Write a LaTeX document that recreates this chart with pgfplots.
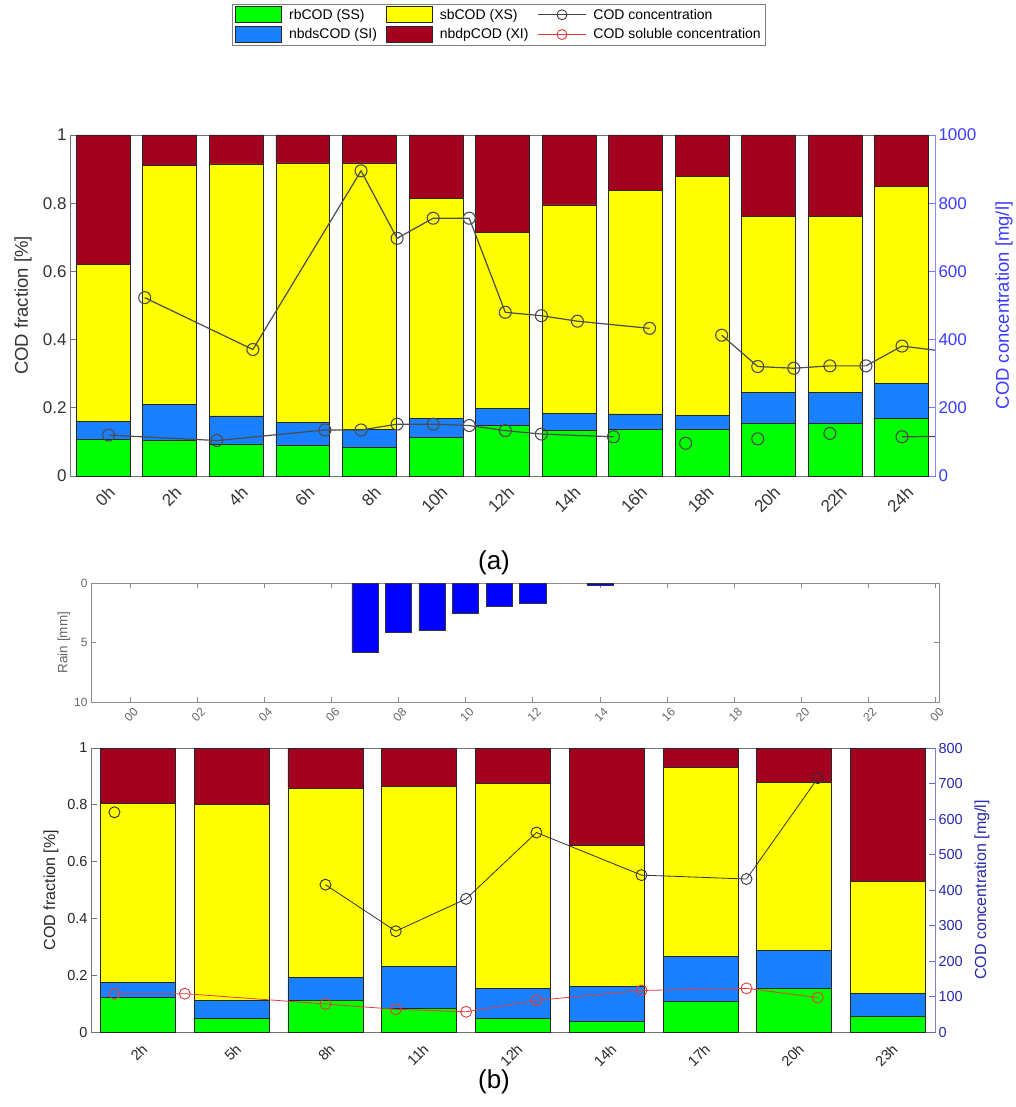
\documentclass[border=0pt]{standalone}
\usepackage{fontspec}
\setmainfont{Liberation Sans}
\usepackage{pgfplots}
\pgfplotsset{compat=1.18}
\usepackage{pgfplotstable}

\definecolor{cSS}{RGB}{0,255,0}
\definecolor{cXS}{RGB}{255,255,0}
\definecolor{cSI}{RGB}{26,128,255}
\definecolor{cXI}{RGB}{162,0,30}
\definecolor{blueA}{RGB}{60,60,255}
\definecolor{blueB}{RGB}{40,40,170}
\definecolor{redline}{RGB}{225,60,60}

\pgfplotstableread{
x SS SI XS XI
0 0.108 0.051 0.462 0.379
1 0.104 0.106 0.700 0.090
2 0.094 0.082 0.739 0.085
3 0.089 0.067 0.762 0.082
4 0.083 0.054 0.781 0.082
5 0.113 0.055 0.646 0.186
6 0.148 0.050 0.516 0.286
7 0.133 0.051 0.611 0.205
8 0.136 0.046 0.656 0.162
9 0.136 0.041 0.702 0.121
10 0.155 0.091 0.516 0.238
11 0.155 0.091 0.516 0.238
12 0.170 0.102 0.577 0.151
}\tabA

\pgfplotstableread{
x SS SI XS XI
0 0.121 0.054 0.631 0.194
1 0.048 0.062 0.691 0.199
2 0.110 0.083 0.666 0.141
3 0.083 0.147 0.634 0.136
4 0.049 0.105 0.720 0.126
5 0.038 0.122 0.497 0.343
6 0.107 0.160 0.665 0.068
7 0.154 0.134 0.591 0.121
8 0.055 0.081 0.394 0.470
}\tabB

\pgfplotsset{
  common/.style={
    scale only axis,
    tick align=inside,
    major tick length=6pt,
    /pgf/number format/assume math mode=true,
    /pgf/number format/1000 sep={},
    scaled y ticks=false,
    axis line style={black!55, line width=0.7pt},
    every tick/.style={black!55, line width=0.7pt},
  },
  barstyle/.style={draw=black!85, line width=0.8pt},
  barlegend/.style={legend image code/.code={\draw[##1] (0pt,-8pt) rectangle (46pt,8pt);}},
  linelegend/.style={legend image code/.code={\draw[mark repeat=2,mark phase=2,##1] plot coordinates {(0pt,0pt) (24pt,0pt) (48pt,0pt)};}},
}

\begin{document}
\begin{tikzpicture}
\useasboundingbox (0,0) rectangle (1015pt,-1107pt);

% ---------------- (a) bars ----------------
\begin{axis}[common,
  at={(70pt,-476pt)}, anchor=south west,
  width=865pt, height=341pt,
  xmin=-0.5, xmax=12.5, ymin=0, ymax=1,
  ybar stacked, bar width=0.81,
  xtick={0,...,12},
  xticklabels={0h,2h,4h,6h,8h,10h,12h,14h,16h,18h,20h,22h,24h},
  ytick={0,0.2,0.4,0.6,0.8,1},
  ytick pos=left, xtick pos=both,
  yticklabel style={/pgf/number format/fixed},
  tick label style={font=\fontsize{17}{20}\selectfont, text=black!80},
  xticklabel style={xshift=4pt, yshift=-4pt, rotate=45, anchor=north east},
  ylabel={COD fraction [\%]},
  every axis y label/.style={at={(axis description cs:-0.0543,0.5)}, rotate=90, anchor=center, font=\fontsize{18.5}{22}\selectfont, text=black!80},
]
\addplot[barstyle, fill=cSS] table[x=x,y=SS]{\tabA};
\addplot[barstyle, fill=cSI] table[x=x,y=SI]{\tabA};
\addplot[barstyle, fill=cXS] table[x=x,y=XS]{\tabA};
\addplot[barstyle, fill=cXI] table[x=x,y=XI]{\tabA};
\end{axis}

% ---------------- (a) concentration ----------------
\begin{axis}[common,
  at={(70pt,-476pt)}, anchor=south west,
  width=865pt, height=341pt,
  xmin=-0.5, xmax=12.5, ymin=0, ymax=1000,
  axis x line=none, axis y line*=right,
  ytick={0,200,400,600,800,1000},
  y axis line style={blueA!60, line width=0.7pt},
  ytick style={blueA!70},
  yticklabel style={font=\fontsize{17}{20}\selectfont, text=blueA},
  ylabel={COD concentration [mg/l]},
  every axis y label/.style={at={(axis description cs:1.0798,0.5)}, rotate=90, anchor=center, font=\fontsize{18.5}{22}\selectfont, text=blueA},
  unbounded coords=jump,
  legend columns=3,
  legend cell align=left,
  legend style={at={(0.496,1.384)}, anchor=north, draw=black!50, line width=0.6pt,
    font=\fontsize{14}{16}\selectfont, inner xsep=3pt, inner ysep=2pt, row sep=3pt,
    /tikz/every odd column/.append style={column sep=5pt},
    /tikz/every even column/.append style={column sep=7pt}},
]
\addlegendimage{barlegend, fill=cSS, draw=black!85, line width=0.8pt}
\addlegendentry{rbCOD (SS)}
\addlegendimage{barlegend, fill=cXS, draw=black!85, line width=0.8pt}
\addlegendentry{sbCOD (XS)}
\addlegendimage{linelegend, black!75, line width=0.9pt, mark=o, mark size=5pt, mark options={solid}}
\addlegendentry{COD concentration}
\addlegendimage{barlegend, fill=cSI, draw=black!85, line width=0.8pt}
\addlegendentry{nbdsCOD (SI)}
\addlegendimage{barlegend, fill=cXI, draw=black!85, line width=0.8pt}
\addlegendentry{nbdpCOD (XI)}
\addlegendimage{linelegend, redline, line width=0.9pt, mark=o, mark size=5pt, mark options={solid}}
\addlegendentry{COD soluble concentration}

\addplot[forget plot, black!70, line width=1.2pt, mark=o, mark size=6pt, mark options={solid, line width=1.1pt}] coordinates {
(0.622,523) (2.248,371) (3.874,895) (4.416,697) (4.958,756) (5.500,756)
(6.042,480) (6.584,470) (7.126,454) (8.210,433) (8.750,nan)
(9.294,413) (9.836,321) (10.378,316) (10.920,323) (11.462,323) (12.004,381)
};
\addplot[forget plot, black!70, line width=1.2pt] coordinates {(12.004,381) (12.5,369)};
\addplot[forget plot, black!70, line width=1.2pt, mark=o, mark size=6pt, mark options={solid, line width=1.1pt}] coordinates {
(0.080,120) (1.706,104) (3.332,135) (3.874,135) (4.416,152) (4.958,152)
(5.500,148) (6.042,133) (6.584,123) (7.668,115) (8.200,nan)
(8.752,96) (9.300,nan) (9.836,109) (10.400,nan) (10.920,125) (11.500,nan)
(12.004,115)
};
\addplot[forget plot, black!70, line width=1.2pt] coordinates {(12.004,115) (12.5,116)};
\end{axis}

\node[font=\fontsize{26}{30}\selectfont] at (494pt,-563pt) {(a)};

% ---------------- rain ----------------
\begin{axis}[common,
  at={(91pt,-702pt)}, anchor=south west,
  width=848pt, height=119pt,
  xmin=-1.16, xmax=24.1, ymin=0, ymax=10, y dir=reverse,
  major tick length=5pt,
  axis line style={black!45, line width=0.7pt},
  every tick/.style={black!45, line width=0.7pt},
  xtick={0,2,...,24},
  xticklabels={00,02,04,06,08,10,12,14,16,18,20,22,00},
  ytick={0,5,10},
  tick label style={font=\fontsize{12}{14}\selectfont, text=black!60},
  xticklabel style={xshift=3pt, rotate=45, anchor=north east},
  ylabel={Rain [mm]},
  every axis y label/.style={at={(axis description cs:-0.032,0.5)}, rotate=90, anchor=center, font=\fontsize{13.5}{16}\selectfont, text=black!60},
]
\addplot[ybar, bar width=0.78, fill=blue, draw=black!80, line width=0.6pt] coordinates {
(7,5.80) (8,4.14) (9,3.97) (10,2.54) (11,1.97) (12,1.72) (14,0.17)
};
\end{axis}

% ---------------- (b) bars ----------------
\begin{axis}[common,
  at={(91pt,-1032pt)}, anchor=south west,
  width=844pt, height=284pt,
  xmin=-0.5, xmax=8.5, ymin=0, ymax=1,
  ybar stacked, bar width=0.80,
  xtick={0,...,8},
  xticklabels={2h,5h,8h,11h,12h,14h,17h,20h,23h},
  ytick={0,0.2,0.4,0.6,0.8,1},
  ytick pos=left, xtick pos=both,
  yticklabel style={/pgf/number format/fixed},
  tick label style={font=\fontsize{14.5}{17}\selectfont, text=black!85},
  xticklabel style={xshift=3pt, yshift=-6pt, rotate=45, anchor=north east},
  ylabel={COD fraction [\%]},
  every axis y label/.style={at={(axis description cs:-0.0474,0.5)}, rotate=90, anchor=center, font=\fontsize{16}{19}\selectfont, text=black!85},
]
\addplot[barstyle, fill=cSS] table[x=x,y=SS]{\tabB};
\addplot[barstyle, fill=cSI] table[x=x,y=SI]{\tabB};
\addplot[barstyle, fill=cXS] table[x=x,y=XS]{\tabB};
\addplot[barstyle, fill=cXI] table[x=x,y=XI]{\tabB};
\end{axis}

% ---------------- (b) concentration ----------------
\begin{axis}[common,
  at={(91pt,-1032pt)}, anchor=south west,
  width=844pt, height=284pt,
  xmin=-0.5, xmax=8.5, ymin=0, ymax=800,
  axis x line=none, axis y line*=right,
  ytick={0,100,...,800},
  y axis line style={blueB!60, line width=0.7pt},
  ytick style={blueB!70},
  yticklabel style={font=\fontsize{14.5}{17}\selectfont, text=blueB},
  ylabel={COD concentration [mg/l]},
  every axis y label/.style={at={(axis description cs:1.0557,0.5)}, rotate=90, anchor=center, font=\fontsize{16}{19}\selectfont, text=blueB},
  unbounded coords=jump,
]
\addplot[black!80, line width=0.8pt, mark=o, mark size=5.5pt, mark options={solid, line width=0.9pt}] coordinates {
(-0.25,619) (0.8,nan) (2.00,415) (2.75,284) (3.50,375) (4.25,562) (5.37,442) (6.49,431) (7.25,715)
};
\addplot[redline, line width=0.8pt, mark=o, mark size=5.5pt, mark options={solid, line width=0.9pt}] coordinates {
(-0.25,108) (0.50,108) (2.00,79) (2.75,64) (3.50,57) (4.25,89) (5.37,117) (6.49,123) (7.25,97)
};
\end{axis}

\node[font=\fontsize{26}{30}\selectfont] at (494pt,-1082pt) {(b)};
\end{tikzpicture}
\end{document}
